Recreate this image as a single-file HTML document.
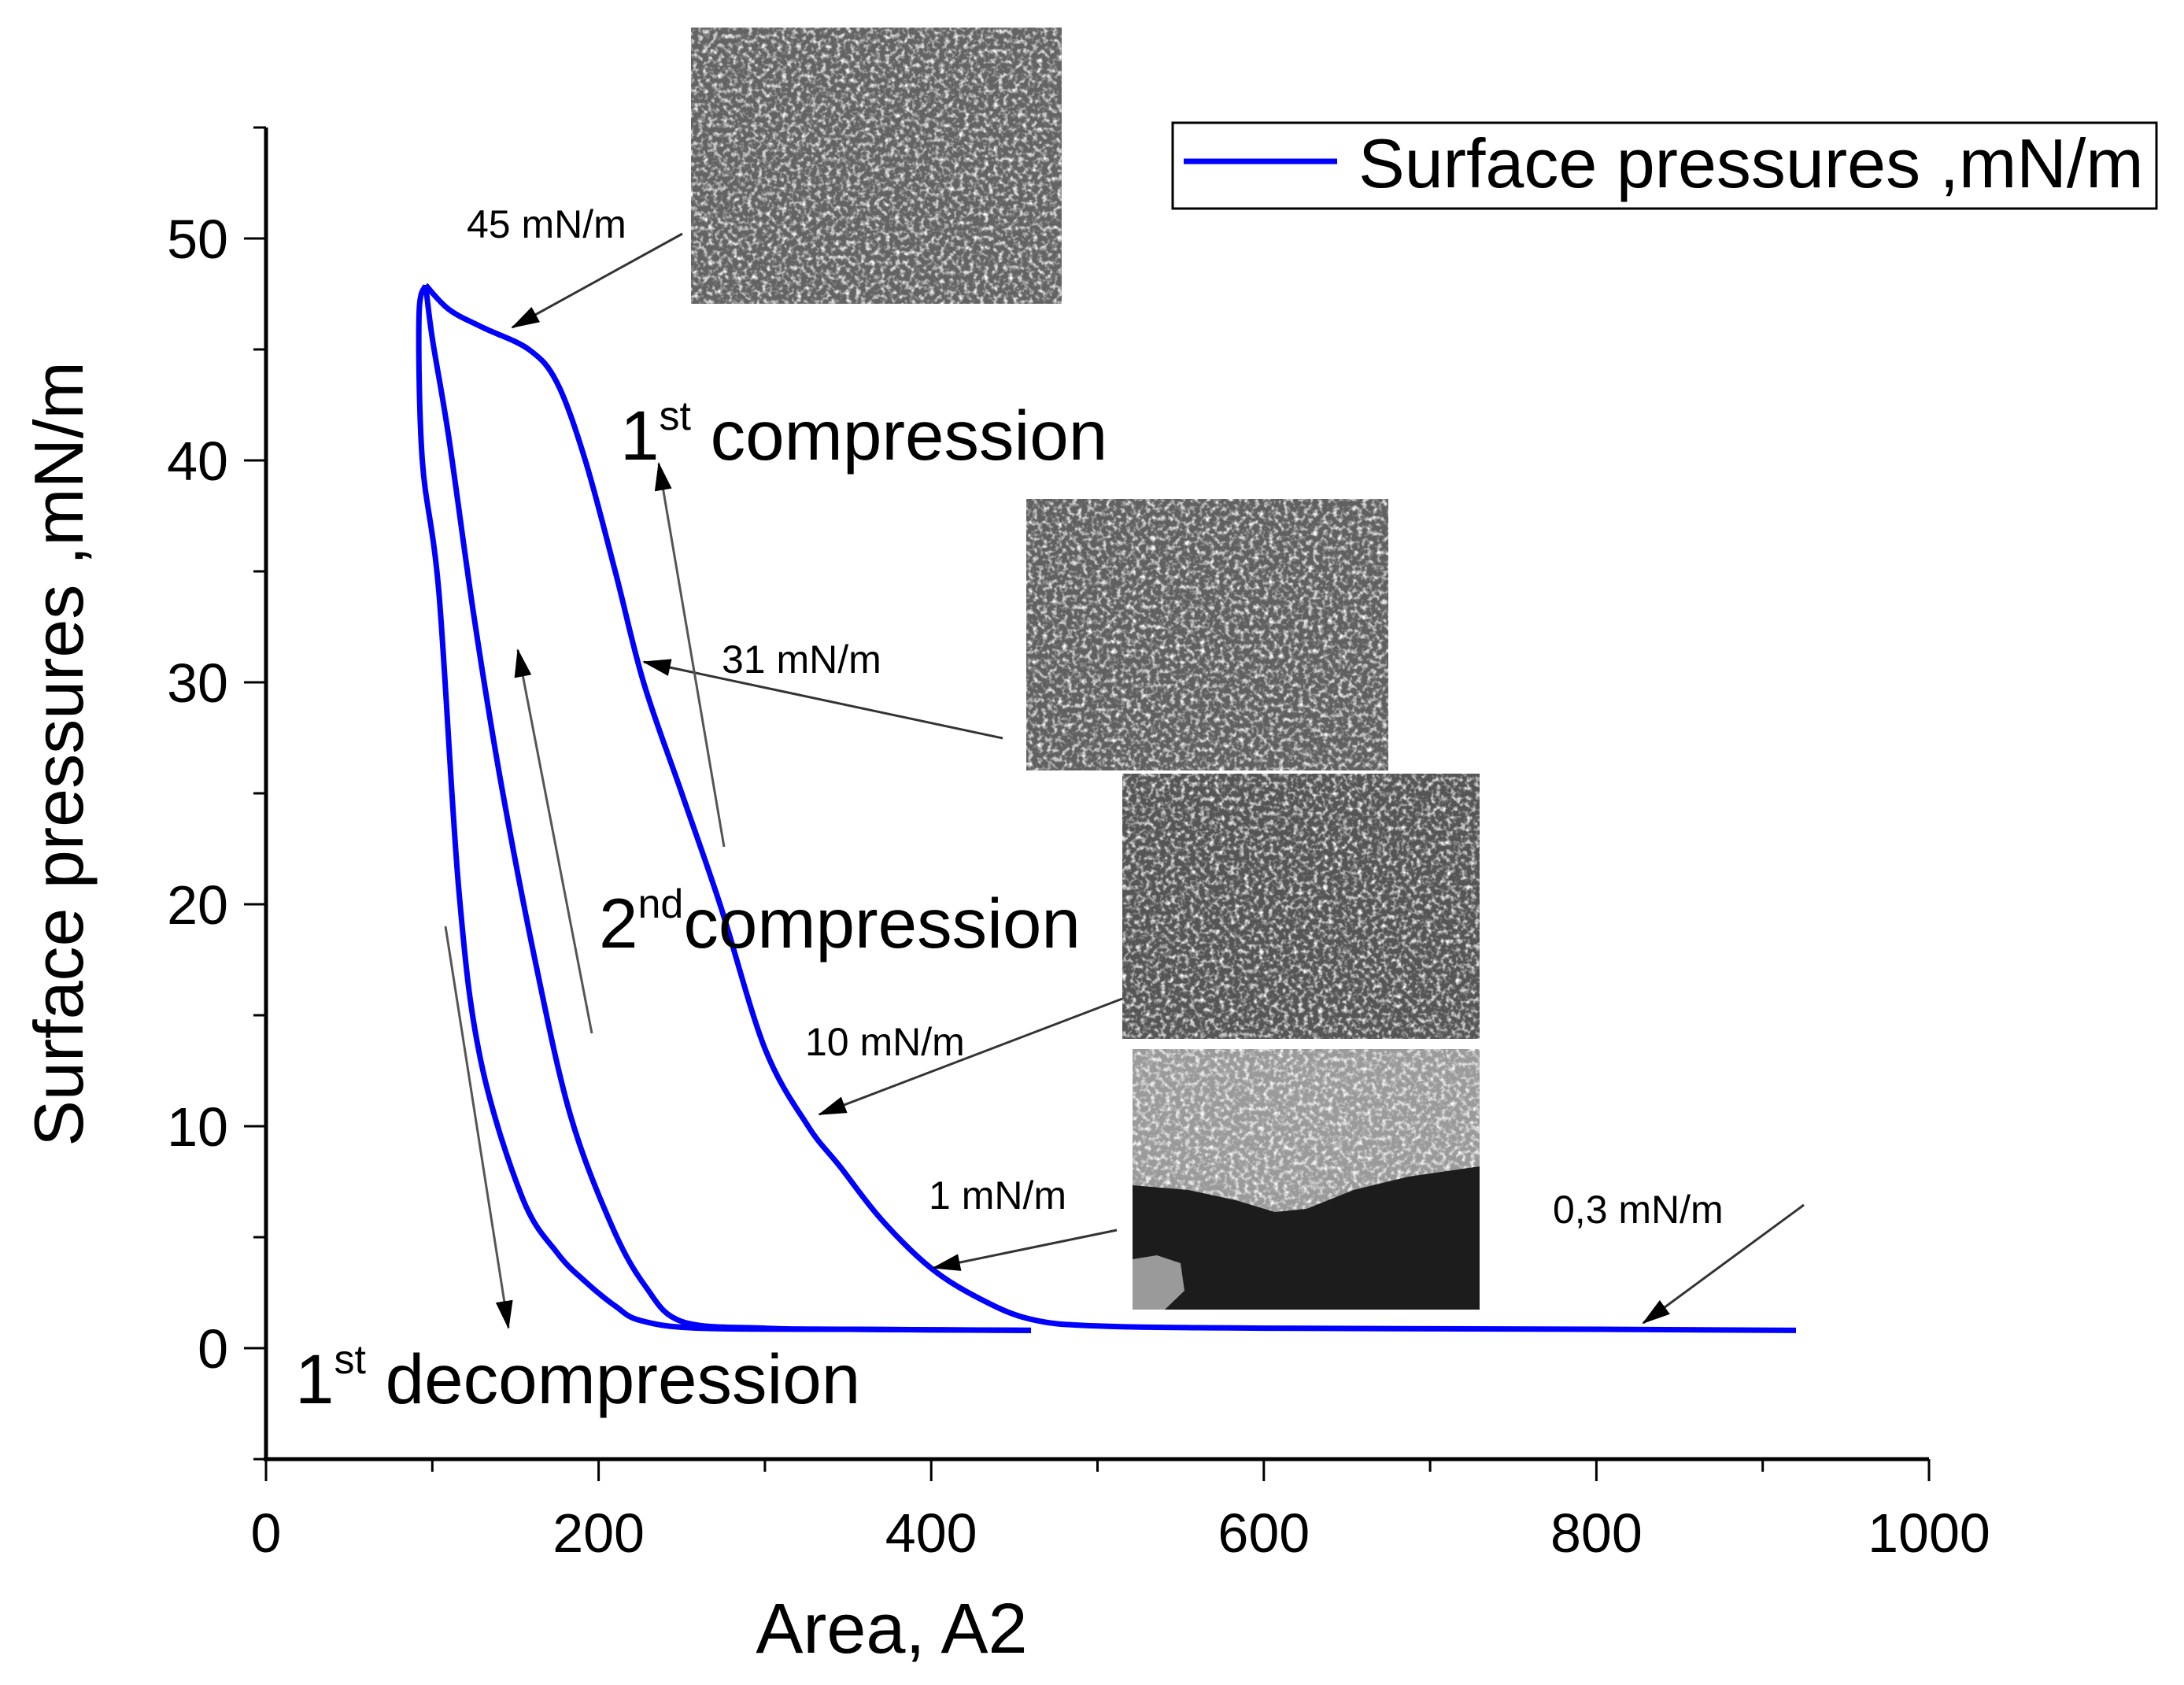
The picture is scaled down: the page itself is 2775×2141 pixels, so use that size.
<!DOCTYPE html>
<html><head><meta charset="utf-8"><style>
html,body{margin:0;padding:0;background:#fff}
svg{display:block;font-family:"Liberation Sans",Arial,sans-serif}
</style></head><body>
<svg id="chart" width="2775" height="2141" viewBox="0 0 2775 2141" xmlns="http://www.w3.org/2000/svg">
<defs>
<filter id="noise" x="0" y="0" width="100%" height="100%">
<feTurbulence type="fractalNoise" baseFrequency="0.16" numOctaves="2" seed="3"/>
<feColorMatrix type="matrix" values="0 0 0 0 1  0 0 0 0 1  0 0 0 0 1  0 0 0 2.6 -1.2"/>
</filter>
<marker id="ahb" markerWidth="36" markerHeight="22" refX="34" refY="11" orient="auto" markerUnits="userSpaceOnUse" viewBox="0 0 36 22">
<path d="M0,0 L36,11 L0,22 z" fill="#000"/></marker>
</defs>

<g>
<rect x="878" y="35" width="471" height="351" fill="#636363"/>
<rect x="878" y="35" width="471" height="351" filter="url(#noise)"/>
</g>
<g>
<rect x="1304" y="634" width="460" height="345" fill="#606060"/>
<rect x="1304" y="634" width="460" height="345" filter="url(#noise)"/>
</g>
<g>
<rect x="1426" y="983" width="454" height="337" fill="#555"/>
<rect x="1426" y="983" width="454" height="337" filter="url(#noise)"/>
</g>
<g>
<rect x="1439" y="1333" width="441" height="331" fill="#9a9a9a"/>
<rect x="1439" y="1333" width="441" height="331" filter="url(#noise)"/>
<path d="M1439,1506 L1510,1512 L1570,1525 L1620,1540 L1660,1536 L1720,1512 L1790,1495 L1880,1482 L1880,1664 L1439,1664 Z" fill="#1c1c1c"/>
<path d="M1439,1600 L1470,1595 L1500,1605 L1505,1640 L1480,1664 L1439,1664 Z" fill="#9a9a9a"/>
</g>

<g id="axes"></g>
<g id="series"></g>

<g font-size="50" fill="#000">
<text x="593" y="302">45 mN/m</text>
<line x1="867" y1="297" x2="651" y2="416" stroke="#333" stroke-width="3" marker-end="url(#ahb)"/>
<text x="917" y="855">31 mN/m</text>
<line x1="1274" y1="938" x2="818" y2="841" stroke="#333" stroke-width="3" marker-end="url(#ahb)"/>
<text x="1023" y="1341">10 mN/m</text>
<line x1="1426" y1="1269" x2="1041" y2="1416" stroke="#333" stroke-width="3" marker-end="url(#ahb)"/>
<text x="1180" y="1536">1 mN/m</text>
<line x1="1419" y1="1563" x2="1186" y2="1611" stroke="#333" stroke-width="3" marker-end="url(#ahb)"/>
<text x="1973" y="1554">0,3 mN/m</text>
<line x1="2292" y1="1531" x2="2088" y2="1681" stroke="#333" stroke-width="3" marker-end="url(#ahb)"/>
<line x1="920" y1="1076" x2="837" y2="589" stroke="#555" stroke-width="3" marker-end="url(#ahb)"/>
<line x1="752" y1="1313" x2="658" y2="826" stroke="#555" stroke-width="3" marker-end="url(#ahb)"/>
<line x1="566" y1="1177" x2="646" y2="1687" stroke="#555" stroke-width="3" marker-end="url(#ahb)"/>
</g>
<g font-size="89" fill="#000">
<text x="788" y="584">1<tspan font-size="52" dy="-38">st</tspan><tspan dy="38"> compression</tspan></text>
<text x="761" y="1204">2<tspan font-size="52" dy="-38">nd</tspan><tspan dy="38">compression</tspan></text>
<text x="375" y="1783">1<tspan font-size="52" dy="-38">st</tspan><tspan dy="38"> decompression</tspan></text>
</g>

<g>
<rect x="1490" y="156" width="1250" height="109" fill="#fff" stroke="#000" stroke-width="3"/>
<line x1="1504" y1="205" x2="1699" y2="205" stroke="#0000ff" stroke-width="7"/>
<text x="1726" y="238" font-size="88">Surface pressures ,mN/m</text>
</g>
<text x="1133" y="2100" font-size="90" text-anchor="middle">Area, A2</text>
<text transform="translate(105,958) rotate(-90)" font-size="88" text-anchor="middle">Surface pressures ,mN/m</text>
</svg>
<script>
const xTicks=[0,200,400,600,800,1000];
const yTicks=[0,10,20,30,40,50];
const comp1X=[920,800,600,500,460,430,400,370,345,326,300,273,250,227,210,192,175,158,130,110,96];
const comp1Y=[0.8,0.85,0.9,1.0,1.3,2.2,3.6,5.8,8.2,10,13.5,20,25,30,35,40,43.5,45,46,46.8,47.9];
const comp2X=[460,350,300,250,228,208,183,162,141,125,110,100,96];
const comp2Y=[0.8,0.85,0.9,1.2,2.8,5.5,10.5,17.4,25.6,33,41,45.5,47.9];
const decompX=[96,92,94,104,116,129,154,175,192,210,225,260,350,460];
const decompY=[47.9,46.5,40,34,20.6,13,6.8,4.3,3,1.9,1.25,0.9,0.85,0.8];
const X0=338,X1=2451,Y0=1713,Y50=303;
const sx=v=>X0+(X1-X0)*v/1000;
const sy=v=>Y0-(Y0-Y50)*v/50;
const NS='http://www.w3.org/2000/svg';
const axes=document.getElementById('axes');
function mk(tag,attrs,parent){const e=document.createElementNS(NS,tag);for(const k in attrs)e.setAttribute(k,attrs[k]);parent.appendChild(e);return e;}
const yAx=mk('line',{x1:X0,y1:sy(55),x2:X0,y2:sy(-5),stroke:'#000','stroke-width':5},axes);


const xAx=mk('line',{x1:X0-3,y1:sy(-5),x2:sx(1000),y2:sy(-5),stroke:'#000','stroke-width':5},axes);


for(let v=-5;v<=55;v+=5){
  const major=v%10===0;
  const t=mk('line',{x1:X0-(major?28:16),y1:sy(v),x2:X0,y2:sy(v),stroke:'#000','stroke-width':3},axes);
  
  
}
yTicks.forEach(v=>{
  const t=mk('text',{x:290,y:sy(v)+25,'font-size':70,'text-anchor':'end'},axes);
  t.textContent=v;
  
  
});
for(let v=0;v<=1000;v+=100){
  const major=v%200===0;
  const t=mk('line',{x1:sx(v),y1:sy(-5),x2:sx(v),y2:sy(-5)+(major?28:16),stroke:'#000','stroke-width':3},axes);
  
  
}
xTicks.forEach(v=>{
  const t=mk('text',{x:sx(v),y:1972,'font-size':70,'text-anchor':'middle'},axes);
  t.textContent=v;
  
  
});
const ser=document.getElementById('series');
function line(xs,ys,name){
  const P=xs.map((x,i)=>[sx(x),sy(ys[i])]);
  let d='M'+P[0][0].toFixed(1)+','+P[0][1].toFixed(1);
  for(let i=0;i<P.length-1;i++){
    const p0=P[Math.max(0,i-1)],p1=P[i],p2=P[i+1],p3=P[Math.min(P.length-1,i+2)];
    const c1=[p1[0]+(p2[0]-p0[0])/6,p1[1]+(p2[1]-p0[1])/6];
    const c2=[p2[0]-(p3[0]-p1[0])/6,p2[1]-(p3[1]-p1[1])/6];
    d+=' C'+c1.map(v=>v.toFixed(1)).join(',')+' '+c2.map(v=>v.toFixed(1)).join(',')+' '+p2.map(v=>v.toFixed(1)).join(',');
  }
  const p=mk('path',{d:d,fill:'none',stroke:'#0000ff','stroke-width':7,'stroke-linejoin':'round'},ser);
  
  
}
line(comp1X,comp1Y,'first-compression-curve');
line(comp2X,comp2Y,'second-compression-curve');
line(decompX,decompY,'decompression-curve');
</script>
</body></html>
